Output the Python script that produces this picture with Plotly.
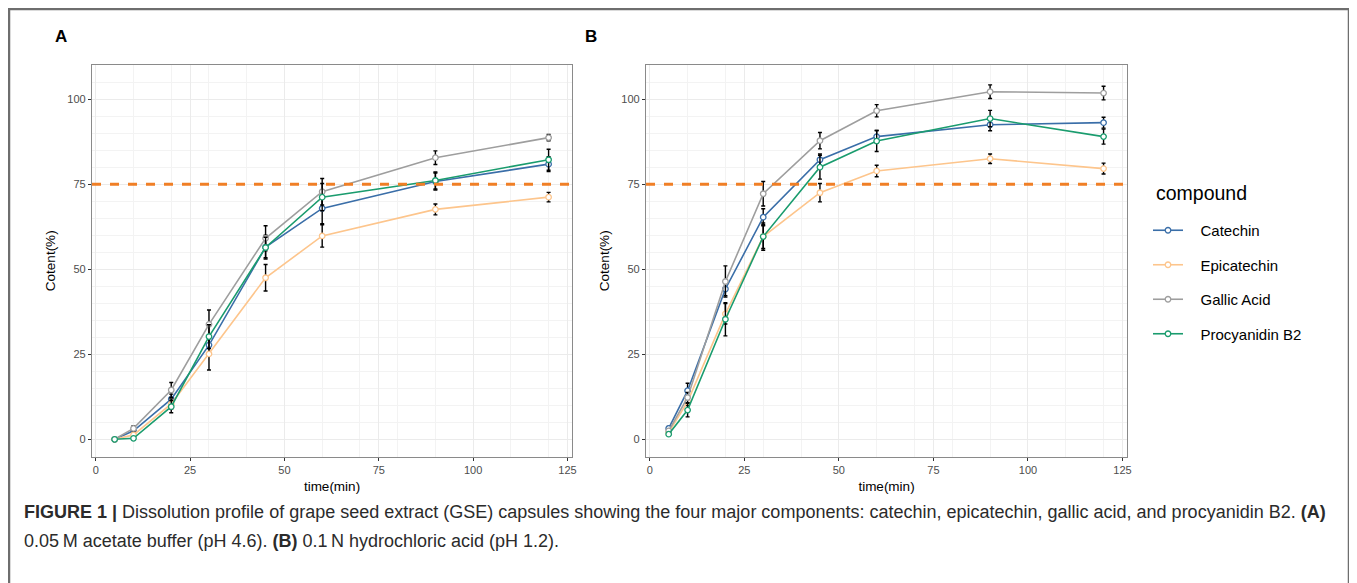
import plotly.graph_objects as go

# The page body adds an 8px margin, so the figure is drawn at (8, 8)
OFF = 8
W, H = 1357 - OFF, 583 - OFF

time_min = [5, 10, 20, 30, 45, 60, 90, 120]
compounds = ["Catechin", "Epicatechin", "Gallic Acid", "Procyanidin B2"]
colors = {"Catechin": "#3A6EA8", "Epicatechin": "#FDC58C",
          "Gallic Acid": "#9E9E9E", "Procyanidin B2": "#1A9C6E"}

# Panel A: 0.05 M acetate buffer (pH 4.6)
a_catechin = [0.0, 2.5, 11.8, 27.7, 56.5, 67.9, 75.8, 80.9]
a_epicatechin = [0.0, 1.3, 10.4, 25.1, 47.5, 59.8, 67.6, 71.2]
a_gallic = [0.0, 3.2, 14.5, 33.8, 59.1, 72.8, 82.8, 88.7]
a_procyanidin = [0.0, 0.3, 9.6, 30.2, 56.4, 71.2, 76.1, 82.2]
a_err_catechin = [0.3, 0.6, 1.5, 3.0, 3.5, 4.5, 2.5, 2.2]
a_err_epicatechin = [0.2, 0.5, 1.5, 4.7, 3.9, 3.3, 1.6, 1.4]
a_err_gallic = [0.3, 0.8, 2.2, 4.2, 3.7, 3.9, 2.0, 0.9]
a_err_procyanidin = [0.2, 0.4, 1.8, 3.5, 3.0, 4.0, 2.5, 3.1]

# Panel B: 0.1 N hydrochloric acid (pH 1.2)
b_catechin = [3.2, 14.3, 44.2, 65.3, 82.2, 89.0, 92.5, 93.1]
b_epicatechin = [2.0, 11.1, 36.9, 59.6, 72.5, 78.9, 82.5, 79.6]
b_gallic = [2.5, 12.3, 46.4, 72.2, 87.8, 96.6, 102.2, 101.8]
b_procyanidin = [1.5, 8.6, 35.3, 59.6, 80.0, 87.7, 94.3, 89.0]
b_err_catechin = [0.6, 2.2, 2.0, 2.5, 1.7, 1.8, 1.8, 1.6]
b_err_epicatechin = [0.4, 1.2, 3.0, 3.5, 2.7, 1.7, 1.4, 1.6]
b_err_gallic = [0.5, 1.5, 4.6, 3.6, 2.4, 1.8, 2.0, 2.0]
b_err_procyanidin = [0.4, 2.0, 4.9, 4.0, 3.5, 3.1, 2.4, 2.2]

threshold = 75
x_ticks = [0, 25, 50, 75, 100, 125]
y_ticks = [0, 25, 50, 75, 100]

panel_a = {"Catechin": (a_catechin, a_err_catechin),
           "Epicatechin": (a_epicatechin, a_err_epicatechin),
           "Gallic Acid": (a_gallic, a_err_gallic),
           "Procyanidin B2": (a_procyanidin, a_err_procyanidin)}
panel_b = {"Catechin": (b_catechin, b_err_catechin),
           "Epicatechin": (b_epicatechin, b_err_epicatechin),
           "Gallic Acid": (b_gallic, b_err_gallic),
           "Procyanidin B2": (b_procyanidin, b_err_procyanidin)}

FONT = "Liberation Sans, Arial, sans-serif"

fig = go.Figure()

for i, (panel, xa, ya) in enumerate([(panel_a, "x", "y"), (panel_b, "x2", "y2")]):
    for c in compounds:
        vals, err = panel[c]
        fig.add_trace(go.Scatter(
            x=time_min, y=vals, xaxis=xa, yaxis=ya,
            mode="lines+markers", name="\u00a0\u00a0\u00a0" + c, legendgroup=c,
            showlegend=(i == 0),
            line=dict(color=colors[c], width=1.6),
            marker=dict(symbol="circle", size=5.5, color="white",
                        line=dict(color=colors[c], width=1.3)),
            error_y=dict(type="data", array=err, visible=True,
                         color="black", thickness=1.4, width=2),
        ))


def px_x(p):
    return (p - OFF) / W


def px_y(p):
    return 1 - (p - OFF) / H


dom_y = [px_y(457), px_y(64.5)]
axis_common = dict(
    showline=True, linecolor="#8a8a8a", linewidth=1.2, mirror=True,
    ticks="outside", ticklen=3, tickcolor="#333333", tickwidth=1,
    tickfont=dict(family=FONT, size=11, color="#4D4D4D"),
    gridcolor="#ebebeb", gridwidth=1, zeroline=False,
    minor=dict(showgrid=True, gridcolor="#f3f3f3", gridwidth=0.6),
)

fig.update_layout(
    template="none",
    width=W, height=H,
    margin=dict(l=0, r=0, t=0, b=0),
    paper_bgcolor="white", plot_bgcolor="white",
    font=dict(family=FONT, color="black"),
    xaxis=dict(domain=[px_x(92), px_x(572)], range=[-1.0, 126.2],
               tickvals=x_ticks, anchor="y",
               title=dict(text="time(min)", font=dict(size=13.5, family=FONT), standoff=6),
               **axis_common),
    yaxis=dict(domain=dom_y, range=[-5.2, 110.2], tickvals=y_ticks, anchor="x",
               title=dict(text="Cotent(%)", font=dict(size=13.5, family=FONT), standoff=8),
               **axis_common),
    xaxis2=dict(domain=[px_x(646), px_x(1127)], range=[-1.0, 126.2],
                tickvals=x_ticks, anchor="y2",
                title=dict(text="time(min)", font=dict(size=13.5, family=FONT), standoff=6),
                **axis_common),
    yaxis2=dict(domain=dom_y, range=[-5.2, 110.2], tickvals=y_ticks, anchor="x2",
                title=dict(text="Cotent(%)", font=dict(size=13.5, family=FONT), standoff=8),
                **axis_common),
    legend=dict(
        x=px_x(1148), y=px_y(214), xanchor="left", yanchor="top",
        font=dict(size=15, family=FONT, color="black"),
        tracegroupgap=12, itemwidth=30,
        bgcolor="rgba(0,0,0,0)",
    ),
)

for xr in ["x domain", "x2 domain"]:
    yr = "y" if xr == "x domain" else "y2"
    fig.add_shape(type="line", xref=xr, yref=yr, x0=0, x1=1,
                  y0=threshold, y1=threshold,
                  line=dict(color="#F07F26", width=3, dash="dash"))

# outer figure frame (open at the bottom, as in the cropped original)
fig.add_shape(type="rect", xref="paper", yref="paper",
              x0=1 / W, x1=px_x(1349), y0=-0.05, y1=1 - 1 / H,
              line=dict(color="#6e6e6e", width=2.5), layer="below")

annotations = [
    dict(text="compound", x=px_x(1154), y=px_y(193), xanchor="left", yanchor="middle",
         font=dict(size=19.5, family=FONT, color="black")),
    dict(text="<b>A</b>", x=px_x(53), y=px_y(37), xanchor="left", yanchor="middle",
         font=dict(size=17, family=FONT, color="black")),
    dict(text="<b>B</b>", x=px_x(583), y=px_y(37), xanchor="left", yanchor="middle",
         font=dict(size=17, family=FONT, color="black")),
    dict(text="<b>FIGURE 1 |</b> Dissolution profile of grape seed extract (GSE) capsules showing the four major components: catechin, epicatechin, gallic acid, and procyanidin B2. <b>(A)</b>",
         x=px_x(22), y=px_y(512), xanchor="left", yanchor="middle",
         font=dict(size=18, family=FONT, color="#2b2b2b")),
    dict(text="0.05\u2009M acetate buffer (pH 4.6). <b>(B)</b> 0.1\u2009N hydrochloric acid (pH 1.2).",
         x=px_x(22), y=px_y(541), xanchor="left", yanchor="middle",
         font=dict(size=18, family=FONT, color="#2b2b2b")),
]
for a in annotations:
    a.update(xref="paper", yref="paper", showarrow=False)
fig.update_layout(annotations=annotations)

fig.write_html("out.html")
